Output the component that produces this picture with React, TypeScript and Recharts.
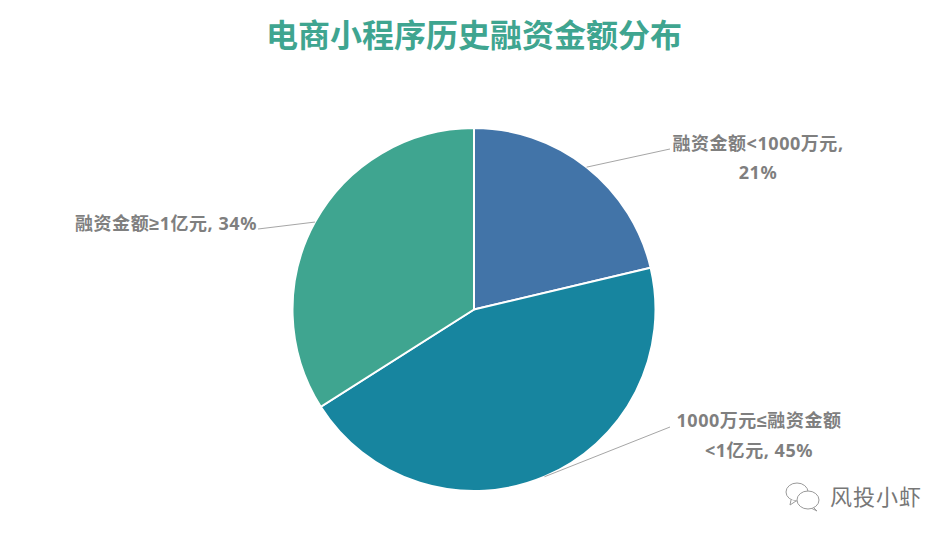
import { Cell, Pie, PieChart } from 'recharts'

const FONT = '"Noto Sans CJK SC", "Noto Sans", sans-serif'
const LABEL_FONT = '"Noto Sans", "Liberation Sans", "Noto Sans CJK SC", sans-serif'

const categories = ['融资金额<1000万元', '1000万元≤融资金额<1亿元', '融资金额≥1亿元']
const shares = [21.3, 44.7, 34]
const colors = ['#4274A8', '#17859F', '#3FA590']
const labelRows = [
  ['融资金额<1000万元,', '21%'],
  ['1000万元≤融资金额', '<1亿元, 45%'],
  ['融资金额≥1亿元, 34%'],
]

const CX = 474
const CY = 309.5

// where each callout ends and where its text sits, relative to the pie centre
const calloutEnds = [[196, -160.5], [196, 117.5], [-216, -80.5]]
const labelCentres = [[284, -164.5], [285, 113], [-308, -84.5]]
const rowHeight = 29.5

const data = categories.map((name, i) => ({ name, value: shares[i] }))

function CalloutLine({ points, index }: any) {
  const [ex, ey] = calloutEnds[index]
  return (
    <path
      d={`M${points[0].x},${points[0].y}L${CX + ex},${CY + ey}`}
      stroke="#A6A6A6"
      strokeWidth={1}
      fill="none"
    />
  )
}

function CalloutLabel({ index }: any) {
  const [lx, ly] = labelCentres[index]
  return (
    <text
      x={CX + lx}
      y={CY + ly}
      textAnchor="middle"
      fill="#7F7F7F"
      fontFamily={LABEL_FONT}
      fontSize={18}
      fontWeight={700}
      letterSpacing={0.55}
    >
      {labelRows[index].map((row, i) => (
        <tspan key={row} x={CX + lx} dy={i === 0 ? 0 : rowHeight} dominantBaseline="middle">
          {row}
        </tspan>
      ))}
    </text>
  )
}

export default function App() {
  return (
    <div style={{ position: 'absolute', left: 0, top: 0, width: 951, height: 538, background: '#fff', overflow: 'hidden' }}>
      <div
        style={{
          position: 'absolute',
          left: 0,
          width: 948,
          top: 11,
          textAlign: 'center',
          fontFamily: FONT,
          fontSize: 32,
          lineHeight: '44px',
          fontWeight: 700,
          color: '#3FA590',
        }}
      >
        电商小程序历史融资金额分布
      </div>
      <PieChart width={951} height={538} margin={{ top: 0, right: 0, bottom: 0, left: 0 }}>
        <Pie
          data={data}
          dataKey="value"
          nameKey="name"
          cx={CX}
          cy={CY}
          outerRadius={181.5}
          startAngle={90}
          endAngle={-270}
          stroke="#fff"
          strokeWidth={2}
          label={CalloutLabel}
          labelLine={CalloutLine}
          isAnimationActive={false}
        >
          {data.map((d, i) => (
            <Cell key={d.name} fill={colors[i]} />
          ))}
        </Pie>
      </PieChart>
      <svg width={38} height={30} style={{ position: 'absolute', left: 784, top: 482 }} fill="#fff" stroke="#9A9A9A" strokeWidth={1}>
        <ellipse cx={13} cy={10} rx={11} ry={9} />
        <path d="M7 18 L6 23 L12 19" />
        <ellipse cx={24} cy={18} rx={11} ry={9} />
        <path d="M30 26 L33 29 L28 26.5" />
      </svg>
      <div
        style={{
          position: 'absolute',
          left: 830,
          top: 480,
          fontFamily: FONT,
          fontSize: 22,
          lineHeight: '30px',
          color: '#777',
          letterSpacing: 1,
        }}
      >
        风投小虾
      </div>
    </div>
  )
}
